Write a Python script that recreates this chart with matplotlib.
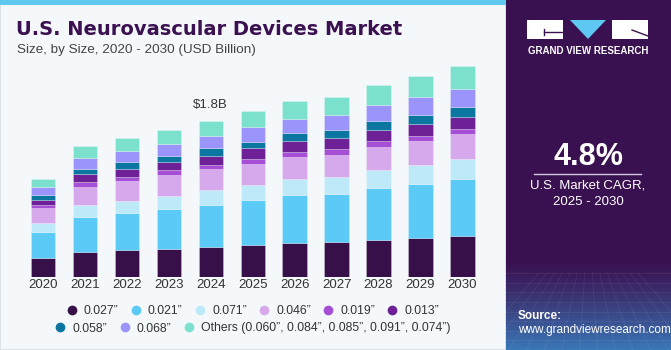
import numpy as np
import matplotlib.pyplot as plt
from matplotlib.lines import Line2D
from matplotlib.patches import Rectangle, Polygon

# =========================
# 0) data (USD Billion, read off the chart)
# =========================
YEARS = ["2020", "2021", "2022", "2023", "2024", "2025", "2026", "2027", "2028", "2029", "2030"]

SEGMENTS = ["0.027\u201d", "0.021\u201d", "0.071\u201d", "0.046\u201d", "0.019\u201d",
            "0.013\u201d", "0.058\u201d", "0.068\u201d",
            "Others (0.060\u201d, 0.084\u201d, 0.085\u201d, 0.091\u201d, 0.074\u201d)"]

s_027 = [0.216, 0.286, 0.304, 0.324, 0.343, 0.366, 0.393, 0.401, 0.428, 0.451, 0.471]
s_021 = [0.301, 0.408, 0.431, 0.462, 0.486, 0.517, 0.547, 0.555, 0.598, 0.624, 0.662]
s_071 = [0.104, 0.135, 0.142, 0.142, 0.173, 0.177, 0.188, 0.197, 0.205, 0.216, 0.223]
s_046 = [0.170, 0.212, 0.228, 0.243, 0.239, 0.246, 0.251, 0.258, 0.266, 0.274, 0.292]
s_019 = [0.035, 0.054, 0.046, 0.061, 0.050, 0.058, 0.061, 0.066, 0.066, 0.061, 0.061]
s_013 = [0.066, 0.096, 0.096, 0.089, 0.108, 0.127, 0.131, 0.131, 0.135, 0.139, 0.142]
s_058 = [0.054, 0.058, 0.077, 0.077, 0.089, 0.069, 0.092, 0.089, 0.096, 0.108, 0.112]
s_068 = [0.092, 0.127, 0.127, 0.139, 0.142, 0.173, 0.162, 0.173, 0.193, 0.205, 0.205]
s_oth = [0.096, 0.139, 0.154, 0.162, 0.170, 0.177, 0.205, 0.208, 0.223, 0.243, 0.266]

SERIES = [s_027, s_021, s_071, s_046, s_019, s_013, s_058, s_068, s_oth]

COLORS = ["#37104a", "#5ccaf6", "#bde9f8", "#d5a9eb", "#a64fd6",
          "#6e2196", "#0b76a0", "#9b94fb", "#7be0cc"]

ANNOT_YEAR = "2024"
ANNOT_TEXT = "$1.8B"

# =========================
# 1) figure + panels
# =========================
W, H = 671, 350
BG = "#f4f8fb"
PURPLE = "#3a1150"
FONT = "Liberation Sans"

plt.rcParams["font.family"] = [FONT, "DejaVu Sans"]

fig = plt.figure(figsize=(W / 100, H / 100), dpi=100, facecolor=BG)

def fx(px):
    return px / W

def fy(py):
    return 1 - py / H

# left panel border + cyan top stripe (kept behind the axes)
fig.patches.append(Rectangle((0, 0), fx(506), 1, transform=fig.transFigure,
                             facecolor=BG, edgecolor="#d6dde3", linewidth=1.2, zorder=-5))
fig.patches.append(Rectangle((0, fy(5)), fx(506), 5 / H, transform=fig.transFigure,
                             facecolor="#5ec8ef", edgecolor="none", zorder=-4))

# right panel (dark purple with bluish gradient at bottom)
ax_r = fig.add_axes([fx(506), 0, fx(W - 506), 1])
grad = np.ones((H, 2, 3))
top = np.array([0x3a, 0x11, 0x50]) / 255
bot = np.array([0x3a, 0x78, 0xb8]) / 255
t = np.clip((np.arange(H) - 260) / (H - 260), 0, 1) ** 1.2
for i in range(H):
    grad[i, :, :] = top * (1 - t[i]) + bot * t[i]
ax_r.imshow(grad, aspect="auto", extent=[0, 1, 1, 0])
# faint grid in the bottom part
for yy in np.linspace(0.78, 1.0, 9):
    ax_r.axhline(yy, color="white", alpha=0.07, linewidth=0.6)
for xx in np.linspace(0, 1, 14):
    ax_r.plot([0.5 + (xx - 0.5) * 0.6, xx * 1.4 - 0.2], [0.78, 1.0],
              color="white", alpha=0.07, linewidth=0.6)
ax_r.set_xlim(0, 1)
ax_r.set_ylim(1, 0)
ax_r.axis("off")

# logo
fig.patches.append(Rectangle((fx(527), fy(39)), fx(36), 19 / H, transform=fig.transFigure,
                             facecolor="white", edgecolor="none"))
fig.patches.append(Rectangle((fx(612), fy(39)), fx(36), 19 / H, transform=fig.transFigure,
                             facecolor="white", edgecolor="none"))
fig.patches.append(Polygon([(fx(570), fy(20)), (fx(606), fy(20)), (fx(588), fy(39))],
                           closed=True, transform=fig.transFigure,
                           facecolor="#5ec8f2", edgecolor="none"))
fig.lines.append(Line2D([fx(544), fx(562)], [fy(32), fy(32)], transform=fig.transFigure,
                        color=PURPLE, linewidth=1))
fig.lines.append(Line2D([fx(544), fx(544)], [fy(29), fy(35)], transform=fig.transFigure,
                        color=PURPLE, linewidth=1))
fig.lines.append(Line2D([fx(632), fx(648)], [fy(30), fy(36)], transform=fig.transFigure,
                        color=PURPLE, linewidth=1))
fig.text(fx(588), fy(51), "GRAND VIEW RESEARCH", color="white", fontsize=7,
         fontweight="bold", ha="center", va="center")

# CAGR box
fig.text(fx(588), fy(157), "4.8%", color="white", fontsize=22, fontweight="bold",
         ha="center", va="center")
fig.lines.append(Line2D([fx(534), fx(641)], [fy(173.5), fy(173.5)], transform=fig.transFigure,
                        color="#d0c8da", linewidth=1))
fig.text(fx(588), fy(185), "U.S. Market CAGR,", color="white", fontsize=9.5,
         ha="center", va="center")
fig.text(fx(588), fy(202), "2025 - 2030", color="white", fontsize=9.5,
         ha="center", va="center")

# source
fig.text(fx(518), fy(316), "Source:", color="white", fontsize=8.5, fontweight="bold",
         ha="left", va="center")
fig.text(fx(518), fy(329.5), "www.grandviewresearch.com", color="white", fontsize=8.5,
         ha="left", va="center")

# titles
fig.text(fx(16), fy(35), "U.S. Neurovascular Devices Market", color="#3b1151",
         fontsize=14, fontweight="bold", ha="left", va="baseline",
         family=["DejaVu Sans"])
fig.text(fx(17), fy(50), "Size, by Size, 2020 - 2030 (USD Billion)", color="#444444",
         fontsize=9.7, ha="left", va="center")

# =========================
# 2) stacked bars
# =========================
ax = fig.add_axes([fx(22), 73.3 / H, 461.4 / W, 226.7 / H])
ax.set_facecolor("none")

x = np.arange(len(YEARS))
bottom = np.zeros(len(YEARS))
for vals, color, name in zip(SERIES, COLORS, SEGMENTS):
    ax.bar(x, vals, bottom=bottom, width=0.58, color=color,
           edgecolor=(1, 1, 1, 0.35), linewidth=0.5, label=name)
    bottom = bottom + np.array(vals)

ax.set_xlim(-0.5, len(YEARS) - 0.5)
ax.set_ylim(0, 2.62)
ax.set_xticks(x)
ax.set_xticklabels(YEARS, fontsize=9.5, color="#333333")
ax.tick_params(axis="x", length=0, pad=2)
ax.set_yticks([])
for sp in ax.spines.values():
    sp.set_visible(False)

# total label above 2024
i = YEARS.index(ANNOT_YEAR)
ax.annotate(ANNOT_TEXT, (x[i], bottom[i]), xytext=(0, 7), textcoords="offset points",
            ha="center", va="bottom", fontsize=9.5, color="#333333")

# =========================
# 3) legend in two rows
# =========================
handles = [Line2D([], [], marker="o", linestyle="none", markersize=7,
                  markerfacecolor=c, markeredgecolor="none") for c in COLORS]

kw = dict(frameon=False, fontsize=8.8, handlelength=0.8, handletextpad=0.6,
          columnspacing=1.0, borderaxespad=0, borderpad=0, labelcolor="#333333")
fig.legend(handles[:6], SEGMENTS[:6], loc="center", ncol=6,
           bbox_to_anchor=(fx(253), fy(311)), **kw)
fig.legend(handles[6:], SEGMENTS[6:], loc="center", ncol=3,
           bbox_to_anchor=(fx(253), fy(328.5)), **kw)

fig.savefig("out.png", dpi=100, facecolor=BG)
